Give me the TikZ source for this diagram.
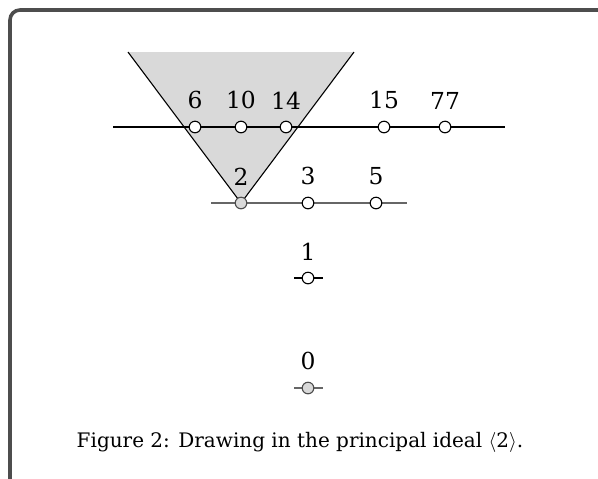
\documentclass[tikz,border=0pt]{standalone}
\usepackage{fontspec}
\setmainfont{DejaVu Serif}
\usetikzlibrary{positioning}
\definecolor{framegray}{HTML}{4D4D4D}
\tikzset{
  elem/.style={circle, draw, fill=white, inner sep=0pt, minimum size=5.8pt},
  elemin/.style={elem, draw=black!70, fill=black!15},
  lbl/.style={inner sep=0pt, font=\fontsize{11.7}{14}\selectfont}
}
\begin{document}
\begin{tikzpicture}[x=0.5pt, y=-0.5pt, line width=0.55pt]
  \useasboundingbox (0,0) rectangle (598,478);
  % frame
  \draw[framegray, line width=1.8pt, rounded corners=5pt] (10,500) -- (10,10) -- (620,10);
  % principal ideal
  \coordinate (tl) at (128,52);
  \coordinate (tr) at (354,52);
  \fill[black!15] (tl) -- (241,203) -- (tr) -- cycle;
  \draw (tl) -- (241,203) -- (tr);
  % rows
  \coordinate (r1a) at (113,127);
  \coordinate (r1b) at (505,127);
  \draw (r1a) -- (r1b);
  \coordinate (r2a) at (211,203);
  \coordinate (r2b) at (407,203);
  \draw[black!60] (r2a) -- (r2b);
  \coordinate (r3a) at (294,278);
  \coordinate (r3b) at (323,278);
  \draw (r3a) -- (r3b);
  \coordinate (r4a) at (294,388);
  \coordinate (r4b) at (323,388);
  \draw[black!60] (r4a) -- (r4b);
  % elements
  \foreach \x/\n in {195/6, 241/10, 286/14, 384/15, 445/77}
    \node[elem] (e\n) at (\x,127) {};
  \node[elemin] (e2) at (241,203) {};
  \foreach \x/\n in {308/3, 376/5}
    \node[elem] (e\n) at (\x,203) {};
  \node[elem] (e1) at (308,278) {};
  \node[elemin] (e0) at (308,388) {};
  % labels
  \foreach \n in {6,10,14,15,77,2,3,5,1,0}
    \node[lbl, above=5.5pt of e\n] (t\n) {\n};
  % caption
  \node[anchor=base, font=\fontsize{10}{12}\selectfont] (cap) at (300,447)
    {Figure 2: Drawing in the principal ideal $\langle$2$\rangle$.};
\end{tikzpicture}
\end{document}
